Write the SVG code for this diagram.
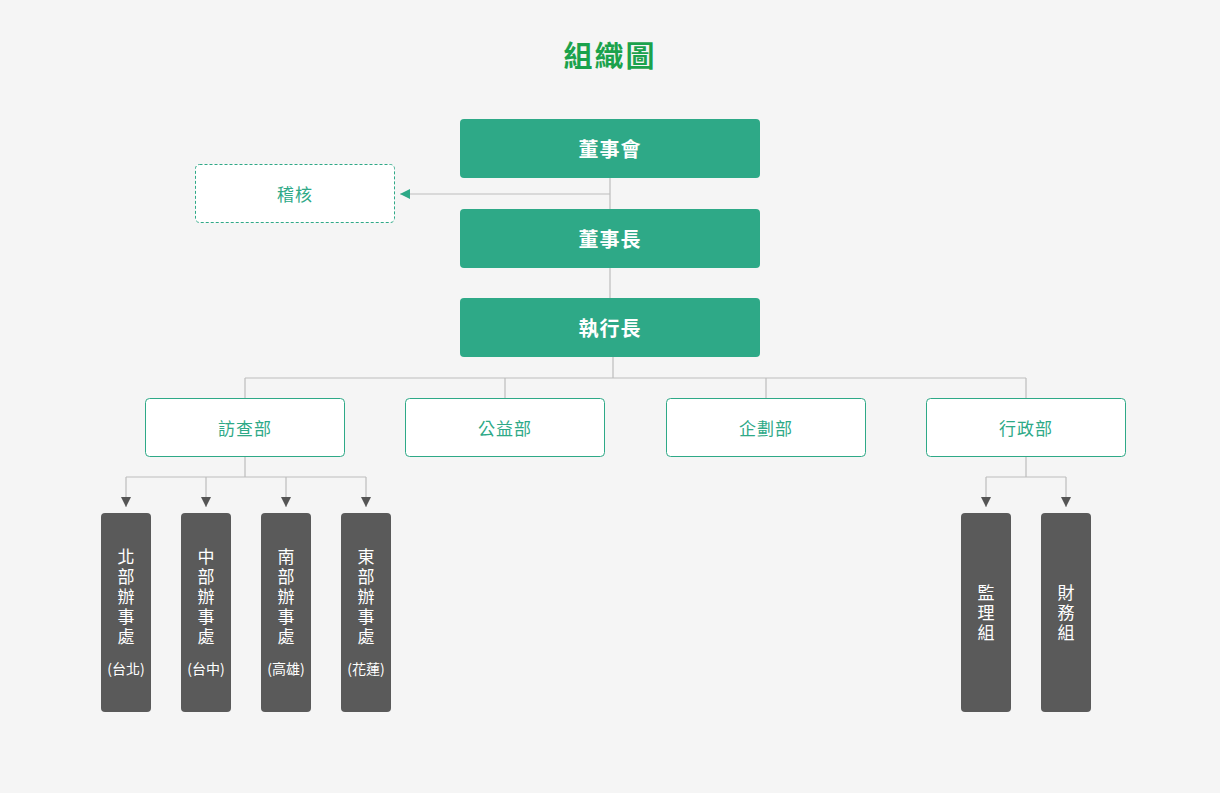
<svg xmlns="http://www.w3.org/2000/svg" width="1220" height="793" viewBox="0 0 1220 793">
<defs>
<style>
text{font-family:"Noto Sans CJK TC","Noto Sans CJK SC",sans-serif;text-anchor:middle;dominant-baseline:central}
.top rect{fill:#2ea987}
.top text{fill:#fff;font-size:20px;font-weight:bold;letter-spacing:1px}
.dept rect{fill:#fff;stroke:#2ea987;stroke-width:1}
.dept text{fill:#2ea987;font-size:17px;letter-spacing:1px}
.sub rect{fill:#5a5a5a}
.sub text{fill:#fff;font-size:17px}
.sub text.v{writing-mode:vertical-rl;letter-spacing:3px}
.sub text.s{font-size:14px}
.ln{fill:none;stroke:#bdbdbd;stroke-width:1.2}
</style>
<marker id="ag" viewBox="0 0 10 10" refX="10" refY="5" markerWidth="10" markerHeight="10" markerUnits="userSpaceOnUse" orient="auto"><path d="M0,0L10,5L0,10Z" fill="#555"/></marker>
<marker id="at" viewBox="0 0 10 10" refX="10" refY="5" markerWidth="10" markerHeight="10" markerUnits="userSpaceOnUse" orient="auto"><path d="M0,0L10,5L0,10Z" fill="#2ea987"/></marker>
</defs>
<rect width="1220" height="793" fill="#f5f5f5"/>
<text x="610" y="54" font-size="29" font-weight="bold" fill="#1ba24c" style="letter-spacing:2px">組織圖</text>
<g id="connectors">
<path class="ln" d="M610,178V209"/>
<path class="ln" d="M610,194H400" marker-end="url(#at)"/>
<path class="ln" d="M610,268V298"/>
<path class="ln" d="M613,357V378M245,378H1026M245,378V398M505,378V398M766,378V398M1026,378V398"/>
<path class="ln" d="M245,457V477M126,477H366"/>
<path class="ln" d="M126,477V507" marker-end="url(#ag)"/>
<path class="ln" d="M206,477V507" marker-end="url(#ag)"/>
<path class="ln" d="M286,477V507" marker-end="url(#ag)"/>
<path class="ln" d="M366,477V507" marker-end="url(#ag)"/>
<path class="ln" d="M1026,457V477M986,477H1066"/>
<path class="ln" d="M986,477V507" marker-end="url(#ag)"/>
<path class="ln" d="M1066,477V507" marker-end="url(#ag)"/>
</g>
<g id="n-board" class="top"><rect x="460" y="119" width="300" height="59" rx="4"/><text x="610" y="148">董事會</text></g>
<g id="n-chair" class="top"><rect x="460" y="209" width="300" height="59" rx="4"/><text x="610" y="238">董事長</text></g>
<g id="n-ceo" class="top"><rect x="460" y="298" width="300" height="59" rx="4"/><text x="610" y="327">執行長</text></g>
<g id="n-audit"><rect x="195.5" y="164.5" width="199" height="58" rx="4" fill="#fff" stroke="#2ea987" stroke-dasharray="3,2"/><text x="295" y="193" font-size="17" fill="#2ea987" style="letter-spacing:1px">稽核</text></g>
<g id="n-visit" class="dept"><rect x="145.5" y="398.5" width="199" height="58" rx="4"/><text x="245" y="427">訪查部</text></g>
<g id="n-welfare" class="dept"><rect x="405.5" y="398.5" width="199" height="58" rx="4"/><text x="505" y="427">公益部</text></g>
<g id="n-plan" class="dept"><rect x="666.5" y="398.5" width="199" height="58" rx="4"/><text x="766" y="427">企劃部</text></g>
<g id="n-admin" class="dept"><rect x="926.5" y="398.5" width="199" height="58" rx="4"/><text x="1026" y="427">行政部</text></g>
<g id="n-north" class="sub"><rect x="101" y="513" width="50" height="199" rx="4"/>
<text class="v" x="126" y="598">北部辦事處</text><text class="s" x="126" y="668">(台北)</text></g>
<g id="n-central" class="sub"><rect x="181" y="513" width="50" height="199" rx="4"/>
<text class="v" x="206" y="598">中部辦事處</text><text class="s" x="206" y="668">(台中)</text></g>
<g id="n-south" class="sub"><rect x="261" y="513" width="50" height="199" rx="4"/>
<text class="v" x="286" y="598">南部辦事處</text><text class="s" x="286" y="668">(高雄)</text></g>
<g id="n-east" class="sub"><rect x="341" y="513" width="50" height="199" rx="4"/>
<text class="v" x="366" y="598">東部辦事處</text><text class="s" x="366" y="668">(花蓮)</text></g>
<g id="n-supervise" class="sub"><rect x="961" y="513" width="50" height="199" rx="4"/>
<text class="v" x="986" y="614">監理組</text></g>
<g id="n-finance" class="sub"><rect x="1041" y="513" width="50" height="199" rx="4"/>
<text class="v" x="1066" y="614">財務組</text></g>
</svg>
